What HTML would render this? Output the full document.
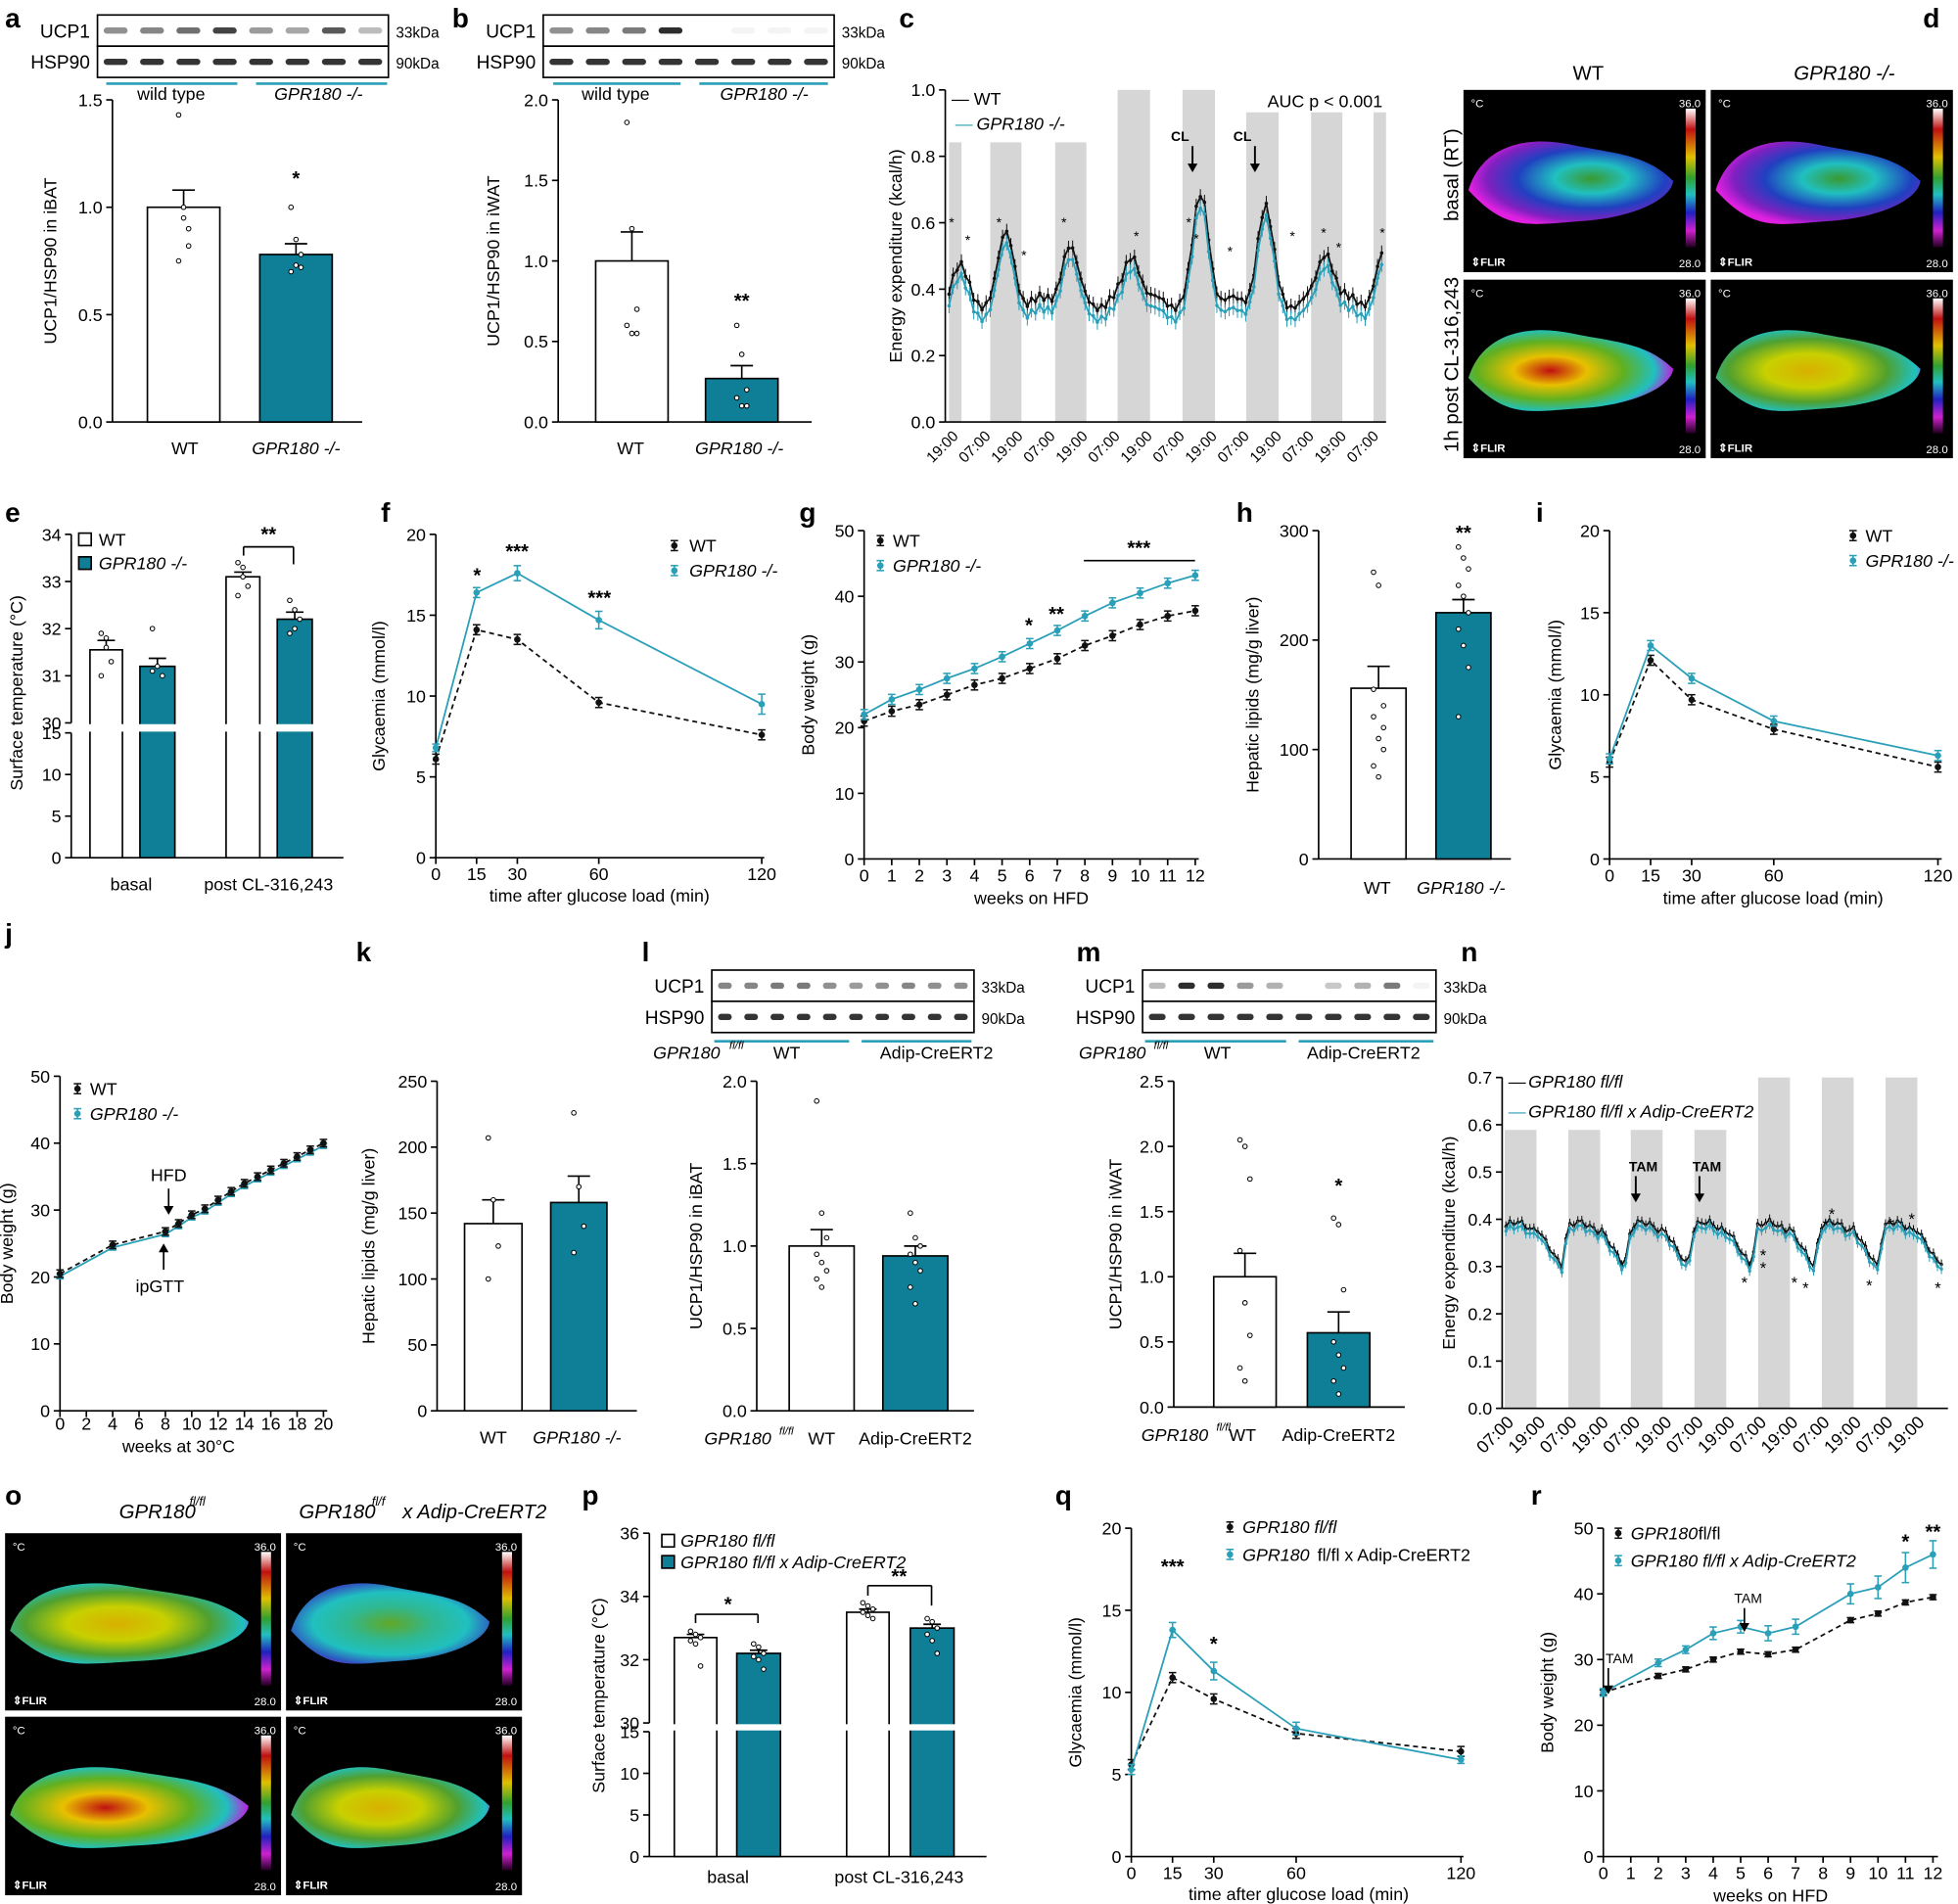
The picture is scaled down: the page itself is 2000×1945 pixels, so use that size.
<!DOCTYPE html>
<html><head><meta charset="utf-8"><style>
html,body{margin:0;padding:0;background:#fff;}
svg{display:block}
text{font-family:"Liberation Sans",Arial,sans-serif;fill:#000}
</style></head><body>
<svg id="s" xmlns="http://www.w3.org/2000/svg" width="2000" height="1945" viewBox="0 0 1568 1525">
<defs>
<radialGradient id="gb" cx="0.6" cy="0.45" r="0.6">
<stop offset="0" stop-color="#3a9a30"/><stop offset="0.3" stop-color="#20c0c0"/><stop offset="0.6" stop-color="#2040c0"/><stop offset="0.85" stop-color="#8020c0"/><stop offset="1" stop-color="#e020e0"/></radialGradient>
<radialGradient id="gc" cx="0.5" cy="0.5" r="0.6">
<stop offset="0" stop-color="#60a828"/><stop offset="0.35" stop-color="#30b890"/><stop offset="0.65" stop-color="#20c0c0"/><stop offset="0.88" stop-color="#3050c0"/><stop offset="1" stop-color="#d020e0"/></radialGradient>
<radialGradient id="gr" cx="0.4" cy="0.5" r="0.6">
<stop offset="0" stop-color="#c01010"/><stop offset="0.3" stop-color="#e8c000"/><stop offset="0.6" stop-color="#60b020"/><stop offset="0.85" stop-color="#20c0c0"/><stop offset="1" stop-color="#c020e0"/></radialGradient>
<radialGradient id="gy" cx="0.45" cy="0.5" r="0.6">
<stop offset="0" stop-color="#d8b000"/><stop offset="0.35" stop-color="#c8d000"/><stop offset="0.65" stop-color="#50a030"/><stop offset="0.88" stop-color="#20c0c0"/><stop offset="1" stop-color="#c020e0"/></radialGradient>
<linearGradient id="cb" x1="0" y1="0" x2="0" y2="1">
<stop offset="0" stop-color="#fff"/><stop offset="0.15" stop-color="#c01010"/><stop offset="0.35" stop-color="#e0c000"/><stop offset="0.5" stop-color="#30a030"/><stop offset="0.62" stop-color="#20c0c0"/><stop offset="0.75" stop-color="#2020c0"/><stop offset="0.88" stop-color="#d020d0"/><stop offset="1" stop-color="#200020"/></linearGradient>
</defs>
</svg>
<script>
var S=[],T='#0e7f96',TL='#2a9fb8';
function P(s){S.push(s)}
function tx(x,y,s,o){o=o||{};P('<text x="'+x+'" y="'+y+'" font-size="'+(o.fs||14)+'" text-anchor="'+(o.a||'middle')+'"'+(o.b?' font-weight="bold"':'')+(o.i?' font-style="italic"':'')+(o.c?' style="fill:'+o.c+'"':'')+(o.r?' transform="rotate('+o.r+' '+x+' '+y+')"':'')+'>'+s+'</text>')}
function ln(x1,y1,x2,y2,c,w,d){P('<line x1="'+x1+'" y1="'+y1+'" x2="'+x2+'" y2="'+y2+'" stroke="'+(c||'#000')+'" stroke-width="'+(w||1.3)+'"'+(d?' stroke-dasharray="'+d+'"':'')+'/>')}
function rc(x,y,w,h,f,s){P('<rect x="'+x+'" y="'+y+'" width="'+w+'" height="'+h+'" fill="'+f+'"'+(s?' stroke="'+s+'" stroke-width="1.3"':'')+'/>')}
function L(lbl,x,y){tx(x,y,lbl,{fs:22,b:1,a:'start'})}
function Y(a,v){return a.yb-(v-a.vb)/(a.vt-a.vb)*(a.yb-a.yt)}
function yax(a,ticks,lab,lx){ln(a.x,a.yt,a.x,a.yb);ticks.forEach(function(v){var y=Y(a,v[0]);ln(a.x-5,y,a.x,y);tx(a.x-8,y+5,v[1],{a:'end'})});if(lab)tx(lx,(a.yt+a.yb)/2,lab,{r:-90})}
function bar(a,x1,x2,v,fill,err,dots){var y=Y(a,v);rc(x1,y,x2-x1,a.yb-y,fill,'#000');var c=(x1+x2)/2;ln(c,y,c,Y(a,v+err));ln(c-9,Y(a,v+err),c+9,Y(a,v+err));(dots||[]).forEach(function(d,i){P('<circle cx="'+(c+((i%3)-1)*4)+'" cy="'+Y(a,d)+'" r="1.8" fill="#fff" stroke="#000" stroke-width="0.8"/>')})}
function series(pts,col,dash,errs){var s=pts.map(function(p){return p[0]+','+p[1]}).join(' ');P('<polyline points="'+s+'" fill="none" stroke="'+col+'" stroke-width="1.4"'+(dash?' stroke-dasharray="4,3"':'')+'/>');pts.forEach(function(p,i){var e=errs?errs[i]:4;ln(p[0],p[1]-e,p[0],p[1]+e,col,1.2);ln(p[0]-3,p[1]-e,p[0]+3,p[1]-e,col,1.2);ln(p[0]-3,p[1]+e,p[0]+3,p[1]+e,col,1.2);P('<circle cx="'+p[0]+'" cy="'+p[1]+'" r="2.6" fill="'+col+'"/>')})}
function blot(x,y,w,lab1,lab2,n,intens){rc(x,y,w,25,'#fff','#000');rc(x,y+25,w,25,'#fff','#000');tx(x-6,y+18,lab1,{a:'end',fs:15});tx(x-6,y+43,lab2,{a:'end',fs:15});tx(x+w+6,y+18,'33kDa',{a:'start',fs:12});tx(x+w+6,y+43,'90kDa',{a:'start',fs:12});var lw=w/n;for(var i=0;i<n;i++){var op=intens[i];if(op>0)P('<rect x="'+(x+i*lw+5)+'" y="'+(y+10)+'" width="'+(lw-10)+'" height="5" rx="2.5" fill="#222" opacity="'+op+'"/>');P('<rect x="'+(x+i*lw+5)+'" y="'+(y+35)+'" width="'+(lw-10)+'" height="5" rx="2.5" fill="#111" opacity="0.85"/>')}}
function thermo(x,y,w,h,grad,body){rc(x,y,w,h,'#000');P('<path d="'+body+'" fill="url(#'+grad+')"/>');rc(x+w-16,y+15,8,h-35,'url(#cb)');tx(x+w-4,y+14,'36.0',{a:'end',fs:9,c:'#fff'});tx(x+w-4,y+h-4,'28.0',{a:'end',fs:9,c:'#fff'});tx(x+6,y+14,'°C',{a:'start',fs:9,c:'#fff'});tx(x+6,y+h-5,'⇕FLIR',{a:'start',fs:9,b:1,c:'#fff'})}
function mouse(x,y,w,h){w=w-22;return 'M'+(x+4)+','+(y+h*0.55)+' C'+(x+15)+','+(y+h*0.3)+' '+(x+w*0.3)+','+(y+h*0.25)+' '+(x+w*0.5)+','+(y+h*0.3)+' S'+(x+w*0.85)+','+(y+h*0.35)+' '+(x+w-4)+','+(y+h*0.5)+' C'+(x+w-6)+','+(y+h*0.6)+' '+(x+w*0.8)+','+(y+h*0.7)+' '+(x+w*0.55)+','+(y+h*0.72)+' S'+(x+w*0.2)+','+(y+h*0.78)+' '+(x+4)+','+(y+h*0.55)+'Z'}

// ===== a =====
L('a',4,22);blot(78,12,233,'UCP1','HSP90',8,[.5,.55,.65,.85,.45,.4,.75,.3]);
ln(85,67,190,67,TL,2);ln(205,67,310,67,TL,2);tx(137,80,'wild type');tx(255,80,'GPR180 -/-',{i:1});
var A={x:90,yb:338,yt:80,vb:0,vt:1.5};yax(A,[[0,'0.0'],[0.5,'0.5'],[1,'1.0'],[1.5,'1.5']],'UCP1/HSP90 in iBAT',45);ln(90,338,290,338);
bar(A,118,176,1.0,'#fff',0.08,[1.43,0.95,0.9,0.75,1.0,0.82]);bar(A,208,266,0.78,T,0.05,[1.0,0.85,0.72,0.7,0.73,0.78]);
tx(148,364,'WT');tx(237,364,'GPR180 -/-',{i:1});tx(237,148,'*',{fs:16,b:1});
// ===== b =====
L('b',362,22);blot(435,12,233,'UCP1','HSP90',8,[.5,.55,.6,.95,0,0.05,0.05,0.05]);
ln(443,67,545,67,TL,2);ln(560,67,663,67,TL,2);tx(493,80,'wild type');tx(612,80,'GPR180 -/-',{i:1});
var B={x:447,yb:338,yt:80,vb:0,vt:2};yax(B,[[0,'0.0'],[0.5,'0.5'],[1,'1.0'],[1.5,'1.5'],[2,'2.0']],'UCP1/HSP90 in iWAT',400);ln(447,338,650,338);
bar(B,477,535,1.0,'#fff',0.18,[1.86,1.2,0.7,0.6,0.55,0.55]);bar(B,565,623,0.27,T,0.08,[0.6,0.42,0.2,0.15,0.1,0.1]);
tx(505,364,'WT');tx(592,364,'GPR180 -/-',{i:1});tx(594,246,'**',{fs:16,b:1});
// ===== c =====
L('c',720,22);
[[760,770,114],[793,818,114],[845,870,114],[895,921,72],[947,973,72],[998,1024,90],[1050,1075,90],[1100,1110,90]].forEach(function(b){rc(b[0],b[2],b[1]-b[0],338-b[2],'#d6d6d6')});
var C={x:757,yb:338,yt:72,vb:0,vt:1};yax(C,[[0,'0.0'],[0.2,'0.2'],[0.4,'0.4'],[0.6,'0.6'],[0.8,'0.8'],[1,'1.0']],'Energy expenditure (kcal/h)',722);ln(757,338,1110,338);
var pk=[[768,0.1],[806,0.2],[856,0.17],[907,0.15],[962,0.32],[1013,0.28],[1062,0.16],[1108,0.14]];
function cv(x,off){var v=0.36+off;pk.forEach(function(p){v+=p[1]*Math.exp(-Math.pow((x-p[0])/9,2))});v+=0.018*Math.sin(x*1.7)+0.01*Math.sin(x*0.9);return v}
['c1','c2'].forEach(function(k,j){var col=j?TL:'#111',off=j?-0.035:0;var pts=[],s='';for(var x=760;x<=1108;x+=3.3){var y=Y(C,cv(x,off));pts.push([x,y]);s+=x.toFixed(1)+','+y.toFixed(1)+' '}
pts.forEach(function(p){ln(p[0],p[1]-6,p[0],p[1]+6,col,0.8)});P('<polyline points="'+s+'" fill="none" stroke="'+col+'" stroke-width="1.4"/>');pts.forEach(function(p){P('<circle cx="'+p[0]+'" cy="'+p[1]+'" r="1.4" fill="'+col+'"/>')})});
var lab=['19:00','07:00'];for(var i=0;i<14;i++){var x=762+i*25.9;tx(x+6,350,lab[i%2],{a:'end',r:-45,fs:12})}
tx(762,84,'— WT',{a:'start'});tx(765,104,'— ',{a:'start',c:TL});tx(782,104,'GPR180 -/-',{a:'start',i:1});tx(1015,86,'AUC p &lt; 0.001',{a:'start'});
[955,1005].forEach(function(x){tx(x-10,113,'CL',{fs:11,b:1});ln(x,117,x,133,'#000',1.5);P('<path d="M'+(x-4)+','+(131)+' L'+x+','+138+' L'+(x+4)+','+131+'Z"/>')});
[[762,182],[800,182],[852,182],[775,196],[820,208],[910,193],[958,195],[952,182],[1060,190],[1072,202],[1107,190],[985,205],[1035,193]].forEach(function(p){tx(p[0],p[1],'*',{fs:11})});
// ===== d =====
L('d',1540,22);tx(1272,64,'WT',{fs:16});tx(1477,64,'GPR180 -/-',{fs:16,i:1});
tx(1168,140,'basal (RT)',{fs:16,r:-90});tx(1168,292,'1h post CL-316,243',{fs:16,r:-90});
thermo(1172,72,194,146,'gb',mouse(1172,72,194,146));thermo(1370,72,194,146,'gb',mouse(1370,72,194,146));
thermo(1172,224,194,143,'gr',mouse(1172,224,194,143));thermo(1370,224,194,143,'gy',mouse(1370,224,194,143));
// ===== e =====
L('e',4,418);
var E1={x:57,yb:579,yt:428,vb:30,vt:34},E2={x:57,yb:687,yt:587,vb:0,vt:15};
yax(E1,[[30,'30'],[31,'31'],[32,'32'],[33,'33'],[34,'34']]);yax(E2,[[0,'0'],[5,'5'],[10,'10'],[15,'15']]);tx(18,555,'Surface temperature (°C)',{r:-90});ln(57,687,275,687);
function brk(a1,a2,x1,x2,v,f,err,dots){var y=Y(a1,v);rc(x1,y,x2-x1,a2.yb-y,f,'#000');var c=(x1+x2)/2;ln(c,y,c,Y(a1,v+err));ln(c-7,Y(a1,v+err),c+7,Y(a1,v+err));(dots||[]).forEach(function(d,i){P('<circle cx="'+(c+((i%3)-1)*4)+'" cy="'+Y(a1,d)+'" r="1.8" fill="#fff" stroke="#000" stroke-width="0.8"/>')})}
brk(E1,E2,72,98,31.55,'#fff',0.2,[31.9,31.8,31.3,31.0,31.6]);brk(E1,E2,112,140,31.2,T,0.17,[32.0,31.2,31.0,31.1]);brk(E1,E2,181,208,33.1,'#fff',0.1,[33.4,33.3,32.9,32.7,33.1]);brk(E1,E2,222,250,32.2,T,0.15,[32.6,32.4,32.2,31.9,32.0]);
rc(60,580,220,6,'#fff');
tx(105,713,'basal');tx(215,713,'post CL-316,243');
rc(63,427,10,10,'#fff','#000');tx(79,437,'WT',{a:'start'});rc(63,446,10,10,T,'#000');tx(79,456,'GPR180 -/-',{a:'start',i:1});
ln(195,438,235,438);ln(195,438,195,445);ln(235,438,235,452);tx(215,433,'**',{fs:16,b:1});
// ===== f =====
L('f',305,418);
var F={x:349,yb:687,yt:428,vb:0,vt:20};yax(F,[[0,'0'],[5,'5'],[10,'10'],[15,'15'],[20,'20']],'Glycaemia (mmol/l)',308);ln(349,687,612,687);
var fx=function(m){return 349+m*(610-349)/120};[0,15,30,60,120].forEach(function(m){ln(fx(m),687,fx(m),692);tx(fx(m),705,m)});tx(480,722,'time after glucose load (min)');
series([0,15,30,60,120].map(function(m,i){return [fx(m),Y(F,[6.1,14.1,13.5,9.6,7.6][i])]}),'#111',1);
series([0,15,30,60,120].map(function(m,i){return [fx(m),Y(F,[6.8,16.4,17.6,14.7,9.5][i])]}),TL,0,[3,4,6,7,8]);
tx(382,466,'*',{fs:16,b:1});tx(414,447,'***',{fs:16,b:1});tx(480,484,'***',{fs:16,b:1});
series([[540,437]],'#111');tx(552,442,'WT',{a:'start'});series([[540,457]],TL);tx(552,462,'GPR180 -/-',{a:'start',i:1});
// ===== g =====
L('g',640,418);
var G={x:692,yb:688,yt:425,vb:0,vt:50};yax(G,[[0,'0'],[10,'10'],[20,'20'],[30,'30'],[40,'40'],[50,'50']],'Body weight (g)',652);ln(692,688,960,688);
var gx=function(w){return 692+w*22.1};for(var w=0;w<=12;w++){ln(gx(w),688,gx(w),693);tx(gx(w),706,w)}tx(826,724,'weeks on HFD');
var gw=[21,22.5,23.5,25,26.5,27.5,29,30.5,32.5,34,35.7,37,37.8],gg=[22,24.3,25.8,27.5,29,30.8,32.8,34.8,37,39,40.5,42,43.2];
series(gw.map(function(v,i){return [gx(i),Y(G,v)]}),'#111',1);series(gg.map(function(v,i){return [gx(i),Y(G,v)]}),TL);
tx(824,506,'*',{fs:16,b:1});tx(846,497,'**',{fs:16,b:1});tx(912,444,'***',{fs:16,b:1});ln(868,449,957,449);
series([[705,433]],'#111');tx(715,438,'WT',{a:'start'});series([[705,453]],TL);tx(715,458,'GPR180 -/-',{a:'start',i:1});
// ===== h =====
L('h',990,418);
var H={x:1056,yb:688,yt:425,vb:0,vt:300};yax(H,[[0,'0'],[100,'100'],[200,'200'],[300,'300']],'Hepatic lipids (mg/g liver)',1008);ln(1056,688,1210,688);
bar(H,1082,1126,156,'#fff',20,[262,250,140,130,110,100,85,75,120,155]);bar(H,1150,1194,225,T,12,[285,275,265,250,240,225,210,195,175,130]);
tx(1103,716,'WT');tx(1170,716,'GPR180 -/-',{i:1});tx(1172,432,'**',{fs:16,b:1});
// ===== i =====
L('i',1230,418);
var I={x:1289,yb:688,yt:425,vb:0,vt:20};yax(I,[[0,'0'],[5,'5'],[10,'10'],[15,'15'],[20,'20']],'Glycaemia (mmol/l)',1250);ln(1289,688,1555,688);
var ix=function(m){return 1289+m*(1552-1289)/120};[0,15,30,60,120].forEach(function(m){ln(ix(m),688,ix(m),693);tx(ix(m),706,m)});tx(1420,724,'time after glucose load (min)');
series([0,15,30,60,120].map(function(m,i){return [ix(m),Y(I,[5.9,12.1,9.7,7.9,5.6][i])]}),'#111',1);
series([0,15,30,60,120].map(function(m,i){return [ix(m),Y(I,[6.1,13.0,11.0,8.4,6.3][i])]}),TL);
series([[1484,429]],'#111');tx(1494,434,'WT',{a:'start'});series([[1484,449]],TL);tx(1494,454,'GPR180 -/-',{a:'start',i:1});
// ===== j =====
L('j',4,755);
var J={x:48,yb:1130,yt:862,vb:0,vt:50};yax(J,[[0,'0'],[10,'10'],[20,'20'],[30,'30'],[40,'40'],[50,'50']],'Body weight (g)',10);ln(48,1130,262,1130);
var jx=function(w){return 48+w*10.55};for(var w=0;w<=20;w+=2){ln(jx(w),1130,jx(w),1135);tx(jx(w),1145,w)}tx(143,1163,'weeks at 30°C');
var jw=[0,4,8,9,10,11,12,13,14,15,16,17,18,19,20],jv=[20.5,24.8,26.8,28,29.3,30.2,31.5,32.8,34,35,36,37,38,39,40];
series(jw.map(function(w,i){return [jx(w),Y(J,jv[i]-0.4)]}),TL,0,jv.map(function(){return 2}));series(jw.map(function(w,i){return [jx(w),Y(J,jv[i])]}),'#111',1,jv.map(function(){return 3}));
tx(135,946,'HFD');ln(135,952,135,968);P('<path d="M131,966 L135,973 L139,966Z"/>');tx(128,1035,'ipGTT');ln(131,1001,131,1017);P('<path d="M127,1003 L131,996 L135,1003Z"/>');
series([[62,872]],'#111');tx(72,877,'WT',{a:'start'});series([[62,892]],TL);tx(72,897,'GPR180 -/-',{a:'start',i:1});
// ===== k =====
L('k',285,770);
var K={x:350,yb:1130,yt:866,vb:0,vt:250};yax(K,[[0,'0'],[50,'50'],[100,'100'],[150,'150'],[200,'200'],[250,'250']],'Hepatic lipids (mg/g liver)',300);ln(350,1130,510,1130);
bar(K,372,418,142,'#fff',18,[207,160,125,100]);bar(K,441,486,158,T,20,[226,170,140,120]);tx(395,1156,'WT');tx(462,1156,'GPR180 -/-',{i:1});
// ===== l =====
L('l',514,770);blot(570,777,210,'UCP1','HSP90',10,[.55,.55,.6,.6,.5,.45,.5,.55,.5,.5]);
ln(572,834,680,834,TL,2);ln(690,834,778,834,TL,2);tx(523,848,'GPR180',{a:'start',i:1});tx(584,840,'fl/fl',{a:'start',fs:9,i:1});tx(630,848,'WT');tx(750,848,'Adip-CreERT2');
var Lx={x:606,yb:1130,yt:866,vb:0,vt:2};yax(Lx,[[0,'0.0'],[0.5,'0.5'],[1,'1.0'],[1.5,'1.5'],[2,'2.0']],'UCP1/HSP90 in iBAT',562);ln(606,1130,780,1130);
bar(Lx,632,684,1.0,'#fff',0.1,[1.88,1.2,1.05,0.95,0.9,0.85,0.8,0.75]);bar(Lx,707,759,0.94,T,0.06,[1.2,1.05,1.0,0.95,0.9,0.85,0.75,0.65]);
tx(564,1157,'GPR180',{a:'start',i:1});tx(624,1149,'fl/fl',{a:'start',fs:9,i:1});tx(658,1157,'WT');tx(733,1157,'Adip-CreERT2');
// ===== m =====
L('m',862,770);blot(915,777,235,'UCP1','HSP90',10,[.3,.95,.95,.45,.35,0,.25,.35,.6,.05]);
ln(917,834,1030,834,TL,2);ln(1040,834,1148,834,TL,2);tx(864,848,'GPR180',{a:'start',i:1});tx(924,840,'fl/fl',{a:'start',fs:9,i:1});tx(975,848,'WT');tx(1092,848,'Adip-CreERT2');
var M={x:940,yb:1127,yt:866,vb:0,vt:2.5};yax(M,[[0,'0.0'],[0.5,'0.5'],[1,'1.0'],[1.5,'1.5'],[2,'2.0'],[2.5,'2.5']],'UCP1/HSP90 in iWAT',898);ln(940,1127,1125,1127);
bar(M,972,1022,1.0,'#fff',0.18,[2.05,2.0,1.75,1.2,0.8,0.55,0.3,0.2]);bar(M,1047,1097,0.57,T,0.16,[1.45,1.4,0.9,0.5,0.4,0.3,0.2,0.1]);
tx(1072,955,'*',{fs:16,b:1});tx(914,1154,'GPR180',{a:'start',i:1});tx(974,1146,'fl/fl',{a:'start',fs:9,i:1});tx(995,1154,'WT');tx(1072,1154,'Adip-CreERT2');
// ===== n =====
L('n',1170,770);
[[1205,905],[1256,905],[1306,905],[1357,905],[1408,863],[1459,863],[1510,863]].forEach(function(b){rc(b[0],b[1],25.5,1128-b[1],'#d6d6d6')});
var N={x:1203,yb:1128,yt:863,vb:0,vt:0.7};yax(N,[[0,'0.0'],[0.1,'0.1'],[0.2,'0.2'],[0.3,'0.3'],[0.4,'0.4'],[0.5,'0.5'],[0.6,'0.6'],[0.7,'0.7']],'Energy expenditure (kcal/h)',1165);ln(1203,1128,1560,1128);
function nv(x,o){var p=((x-1205)/50.6)%1;if(p<0)p+=1;var v;if(p<0.5)v=0.38+0.01*Math.sin(p*9);else if(p<0.9)v=0.38-(p-0.5)/0.4*0.085;else v=0.295+(p-0.9)/0.1*0.085;return v+o+0.006*Math.sin(x*1.3)}
[0,1].forEach(function(j){var col=j?TL:'#111',o=j?-0.006:0.004,pts=[],s='';for(var x=1206;x<=1556;x+=3.2){var y=Y(N,nv(x,o));pts.push([x,y]);s+=x.toFixed(1)+','+y.toFixed(1)+' '}pts.forEach(function(p){ln(p[0],p[1]-4,p[0],p[1]+4,col,0.8)});P('<polyline points="'+s+'" fill="none" stroke="'+col+'" stroke-width="1.4"/>');pts.forEach(function(p){P('<circle cx="'+p[0]+'" cy="'+p[1]+'" r="1.3" fill="'+col+'"/>')})});
lab=['07:00','19:00'];for(var i=0;i<14;i++){var x=1207+i*25.3;tx(x+6,1140,lab[i%2],{a:'end',r:-45,fs:14})}
tx(1208,871,'— ',{a:'start'});tx(1224,871,'GPR180 fl/fl',{a:'start',i:1});tx(1208,895,'— ',{a:'start',c:TL});tx(1224,895,'GPR180 fl/fl x Adip-CreERT2',{a:'start',i:1});
[1310,1361].forEach(function(x){tx(x+6,938,'TAM',{fs:11,b:1});ln(x,942,x,958,'#000',1.5);P('<path d="M'+(x-4)+',956 L'+x+',963 L'+(x+4)+',956Z"/>')});
[[1397,1032],[1412,1010],[1412,1020],[1437,1032],[1446,1036],[1462,986],[1467,977],[1497,1034],[1514,985],[1531,981],[1552,1036]].forEach(function(p){tx(p[0],p[1],'*',{fs:13})});
// ===== o =====
L('o',4,1205);tx(126,1216,'GPR180',{fs:16,i:1});tx(158,1206,'fl/fl',{fs:10,i:1});tx(270,1216,'GPR180',{fs:16,i:1});tx(303,1206,'fl/f',{fs:10,i:1});tx(380,1216,'x Adip-CreERT2',{fs:16,i:1});
tx(24,1300,'basal (RT)',{fs:16,r:-90});tx(24,1445,'1h post CL-316,243',{fs:16,r:-90});
thermo(4,1228,221,142,'gy',mouse(4,1228,221,142));thermo(229,1228,189,142,'gc',mouse(229,1228,189,142));
thermo(4,1375,221,143,'gr',mouse(4,1375,221,143));thermo(229,1375,189,143,'gy',mouse(229,1375,189,143));
// ===== p =====
L('p',466,1205);
var P1={x:520,yb:1380,yt:1228,vb:30,vt:36},P2={x:520,yb:1487,yt:1387,vb:0,vt:15};
yax(P1,[[30,'30'],[32,'32'],[34,'34'],[36,'36']]);yax(P2,[[0,'0'],[5,'5'],[10,'10'],[15,'15']]);tx(484,1358,'Surface temperature (°C)',{r:-90});ln(520,1487,790,1487);
brk(P1,P2,540,574,32.7,'#fff',0.1,[32.9,32.8,32.7,32.6,32.5,31.8]);brk(P1,P2,590,625,32.2,T,0.1,[32.5,32.4,32.2,32.1,32.0,31.7]);
brk(P1,P2,678,712,33.5,'#fff',0.1,[33.8,33.7,33.6,33.5,33.4,33.3]);brk(P1,P2,729,764,33.0,T,0.12,[33.3,33.2,33.0,32.8,32.6,32.2]);
rc(523,1381,270,5,'#fff');tx(583,1508,'basal');tx(720,1508,'post CL-316,243');
rc(530,1229,10,10,'#fff','#000');tx(545,1239,'GPR180 fl/fl',{a:'start',i:1});rc(530,1246,10,10,T,'#000');tx(545,1256,'GPR180 fl/fl x Adip-CreERT2',{a:'start',i:1});
ln(557,1293,607,1293);ln(557,1293,557,1300);ln(607,1293,607,1300);tx(583,1290,'*',{fs:16,b:1});
ln(695,1270,746,1270);ln(695,1270,695,1278);ln(746,1270,746,1286);tx(720,1268,'**',{fs:16,b:1});
// ===== q =====
L('q',845,1205);
var Q={x:906,yb:1487,yt:1224,vb:0,vt:20};yax(Q,[[0,'0'],[5,'5'],[10,'10'],[15,'15'],[20,'20']],'Glycaemia (mmol/l)',866);ln(906,1487,1172,1487);
var qx=function(m){return 906+m*(1170-906)/120};[0,15,30,60,120].forEach(function(m){ln(qx(m),1487,qx(m),1492);tx(qx(m),1505,m)});tx(1040,1522,'time after glucose load (min)');
series([0,15,30,60,120].map(function(m,i){return [qx(m),Y(Q,[5.6,10.9,9.6,7.5,6.4][i])]}),'#111',1);
series([0,15,30,60,120].map(function(m,i){return [qx(m),Y(Q,[5.3,13.8,11.3,7.8,5.9][i])]}),TL,0,[4,6,7,5,3]);
tx(939,1260,'***',{fs:16,b:1});tx(972,1322,'*',{fs:16,b:1});
series([[985,1223]],'#111');tx(995,1228,'GPR180 fl/fl',{a:'start',i:1});series([[985,1245]],TL);tx(995,1250,'GPR180',{a:'start',i:1});tx(1055,1250,'fl/fl x Adip-CreERT2',{a:'start'});
// ===== r =====
L('r',1226,1205);
var R={x:1284,yb:1487,yt:1224,vb:0,vt:50};yax(R,[[0,'0'],[10,'10'],[20,'20'],[30,'30'],[40,'40'],[50,'50']],'Body weight (g)',1244);ln(1284,1487,1552,1487);
var rx=function(w){return 1284+w*22};for(var w=0;w<=12;w++){ln(rx(w),1487,rx(w),1492);tx(rx(w),1505,w)}tx(1418,1523,'weeks on HFD');
var rw=[0,2,3,4,5,6,7,9,10,11,12];
series(rw.map(function(w,i){return [rx(w),Y(R,[25,27.5,28.5,30,31.2,30.8,31.5,36,37,38.7,39.5][i])]}),'#111',1,[2,2,2,2,2,2,2,2,2,2,2]);
series(rw.map(function(w,i){return [rx(w),Y(R,[25,29.5,31.5,34,35,34,35,40,41,44,46][i])]}),TL,0,[3,3,3,5,5,6,6,8,9,12,11]);
tx(1297,1332,'TAM',{fs:11});ln(1288,1336,1288,1352);P('<path d="M1284,1350 L1288,1357 L1292,1350Z"/>');
tx(1400,1284,'TAM',{fs:11});ln(1397,1288,1397,1302);P('<path d="M1393,1300 L1397,1307 L1401,1300Z"/>');
tx(1526,1240,'*',{fs:16,b:1});tx(1548,1232,'**',{fs:16,b:1});
series([[1296,1228]],'#111');tx(1306,1233,'GPR180',{a:'start',i:1});tx(1360,1233,'fl/fl',{a:'start'});series([[1296,1250]],TL);tx(1306,1255,'GPR180 fl/fl x Adip-CreERT2',{a:'start',i:1});
document.getElementById('s').insertAdjacentHTML('beforeend',S.join(''));
</script>
</body></html>
